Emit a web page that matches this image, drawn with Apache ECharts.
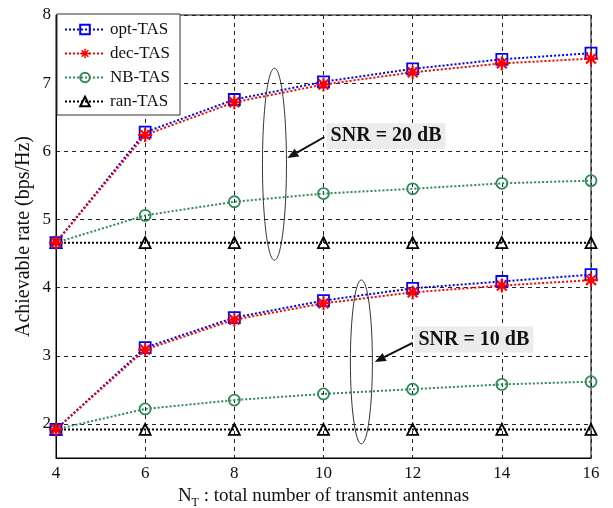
<!DOCTYPE html>
<html>
<head>
<meta charset="utf-8">
<script src="https://cdn.jsdelivr.net/npm/echarts@6/dist/echarts.min.js"></script>
<style>
  html, body { margin: 0; padding: 0; background: #fff; }
  #chart { width: 613px; height: 508px; }
</style>
</head>
<body>
<div id="chart"></div>
<script>
// number of transmit antennas
var antennas = [4, 6, 8, 10, 12, 14, 16];
// SNR = 20 dB
var opt20 = [4.66, 6.28, 6.76, 7.02, 7.21, 7.35, 7.44];
var dec20 = [4.66, 6.24, 6.72, 6.98, 7.16, 7.29, 7.36];
var nb20  = [4.66, 5.06, 5.26, 5.38, 5.45, 5.53, 5.57];
var ran20 = [4.66, 4.66, 4.66, 4.66, 4.66, 4.66, 4.66];
// SNR = 10 dB
var opt10 = [1.92, 3.12, 3.56, 3.81, 3.99, 4.09, 4.19];
var dec10 = [1.92, 3.09, 3.53, 3.77, 3.93, 4.03, 4.11];
var nb10  = [1.92, 2.22, 2.35, 2.44, 2.51, 2.58, 2.62];
var ran10 = [1.92, 1.92, 1.92, 1.92, 1.92, 1.92, 1.92];
var yTicks = [2, 3, 4, 5, 6, 7, 8];

var serif = '"Liberation Serif", "DejaVu Serif", serif';
// asterisk marker (like matlab '*')
var star = 'path://M-1.5,-10L1.5,-10L1.5,10L-1.5,10Z M-10,-1.5L10,-1.5L10,1.5L-10,1.5Z ' +
  'M-5.94,-8.06L8.06,5.94L5.94,8.06L-8.06,-5.94Z M8.06,-5.94L-5.94,8.06L-8.06,5.94L5.94,-8.06Z';

function pairs(ys) {
  return antennas.map(function (x, i) { return [x, ys[i]]; });
}

var styles = {
  'opt-TAS': { color: '#0000ff', symbol: 'rect', size: 11, hollow: true },
  'dec-TAS': { color: '#ff0000', symbol: star, size: 14, hollow: false },
  'NB-TAS':  { color: '#2e8b57', symbol: 'circle', size: 11, hollow: true },
  'ran-TAS': { color: '#000000', symbol: 'triangle', size: 11, hollow: true }
};

function makeSeries(name, ys) {
  var s = styles[name];
  return {
    name: name,
    type: 'line',
    data: pairs(ys),
    symbol: s.symbol,
    symbolSize: s.size,
    showAllSymbol: true,
    lineStyle: { color: s.color, width: 2, type: [2, 2] },
    itemStyle: {
      color: s.hollow ? 'rgba(255,255,255,0)' : s.color,
      borderColor: s.color,
      borderWidth: s.hollow ? 1.8 : 0
    },
    emphasis: { disabled: true },
    animation: false
  };
}

var myChart = echarts.init(document.getElementById('chart'));

var option = {
  backgroundColor: '#fff',
  grid: {
    left: 56, right: 22, top: 15, bottom: 50,
    outerBoundsMode: 'none',
    show: true, borderColor: '#000', borderWidth: 1
  },
  legend: {
    orient: 'vertical',
    left: 57, top: 14,
    itemWidth: 40, itemHeight: 12, itemGap: 7,
    padding: [7, 10, 5, 7],
    borderColor: '#333', borderWidth: 1,
    backgroundColor: '#fff',
    textStyle: { fontFamily: serif, fontSize: 17, color: '#111' },
    data: ['opt-TAS', 'dec-TAS', 'NB-TAS', 'ran-TAS']
  },
  xAxis: {
    type: 'value',
    min: 4, max: 16, interval: 2,
    name: '{n|N}{sub|T}{n| : total number of transmit antennas}',
    nameLocation: 'middle',
    nameGap: 25,
    nameTextStyle: {
      rich: {
        n: { fontFamily: serif, fontSize: 19, color: '#111' },
        sub: { fontFamily: serif, fontSize: 12, color: '#111', padding: [13, 0, 0, 0] }
      }
    },
    axisLine: { lineStyle: { color: '#000' } },
    axisTick: { show: false },
    axisLabel: { fontFamily: serif, fontSize: 17, color: '#111', margin: 7 },
    splitLine: { show: true, lineStyle: { color: '#222', type: [4, 4], width: 1 } }
  },
  yAxis: {
    type: 'value',
    min: 1.5, max: 8,
    name: 'Achievable rate (bps/Hz)',
    nameLocation: 'middle',
    nameGap: 22,
    nameMoveOverlap: false,
    nameTextStyle: { fontFamily: serif, fontSize: 20, color: '#111' },
    axisLine: { lineStyle: { color: '#000' } },
    axisTick: { show: false, customValues: yTicks },
    axisLabel: { fontFamily: serif, fontSize: 17, color: '#111', margin: 5, customValues: yTicks },
    splitLine: { show: true, lineStyle: { color: '#222', type: [4, 4], width: 1 } }
  },
  series: [
    makeSeries('ran-TAS', ran20),
    makeSeries('NB-TAS', nb20),
    makeSeries('opt-TAS', opt20),
    makeSeries('dec-TAS', dec20),
    makeSeries('ran-TAS', ran10),
    makeSeries('NB-TAS', nb10),
    makeSeries('opt-TAS', opt10),
    makeSeries('dec-TAS', dec10)
  ]
};
myChart.setOption(option);

// annotations: ellipse around curves, arrow and SNR label (data coords)
var notes = [
  { text: 'SNR = 20 dB', ell: [8.9, 5.81], rx: 12, ry: 96, from: [10.02, 6.21], to: [9.19, 5.90], label: [10.07, 6.22] },
  { text: 'SNR = 10 dB', ell: [10.85, 2.91], rx: 11, ry: 82, from: [12.0, 3.19], to: [11.15, 2.91], label: [12.04, 3.24] }
];

var graphics = [];
notes.forEach(function (n) {
  var c = myChart.convertToPixel({ gridIndex: 0 }, n.ell);
  var a = myChart.convertToPixel({ gridIndex: 0 }, n.from);
  var b = myChart.convertToPixel({ gridIndex: 0 }, n.to);
  var l = myChart.convertToPixel({ gridIndex: 0 }, n.label);
  graphics.push({
    type: 'ellipse', z: 20,
    shape: { cx: c[0], cy: c[1], rx: n.rx, ry: n.ry },
    style: { fill: null, stroke: '#333', lineWidth: 1 }
  });
  // arrow head
  var dx = b[0] - a[0], dy = b[1] - a[1];
  var len = Math.sqrt(dx * dx + dy * dy);
  var ux = dx / len, uy = dy / len;
  var hl = 11, hw = 4.5;
  var bx = b[0] - ux * hl, by = b[1] - uy * hl;
  graphics.push({
    type: 'line', z: 20,
    shape: { x1: a[0], y1: a[1], x2: bx, y2: by },
    style: { stroke: '#111', lineWidth: 2 }
  });
  graphics.push({
    type: 'polygon', z: 20,
    shape: { points: [[b[0], b[1]], [bx - uy * hw, by + ux * hw], [bx + uy * hw, by - ux * hw]] },
    style: { fill: '#111' }
  });
  graphics.push({
    type: 'text', z: 21,
    x: l[0], y: l[1],
    style: {
      text: n.text,
      font: 'bold 20px ' + serif,
      fill: '#111',
      verticalAlign: 'middle',
      backgroundColor: '#ececec',
      padding: [4, 4, 2, 4]
    }
  });
});
myChart.setOption({ graphic: graphics });
</script>
</body>
</html>
